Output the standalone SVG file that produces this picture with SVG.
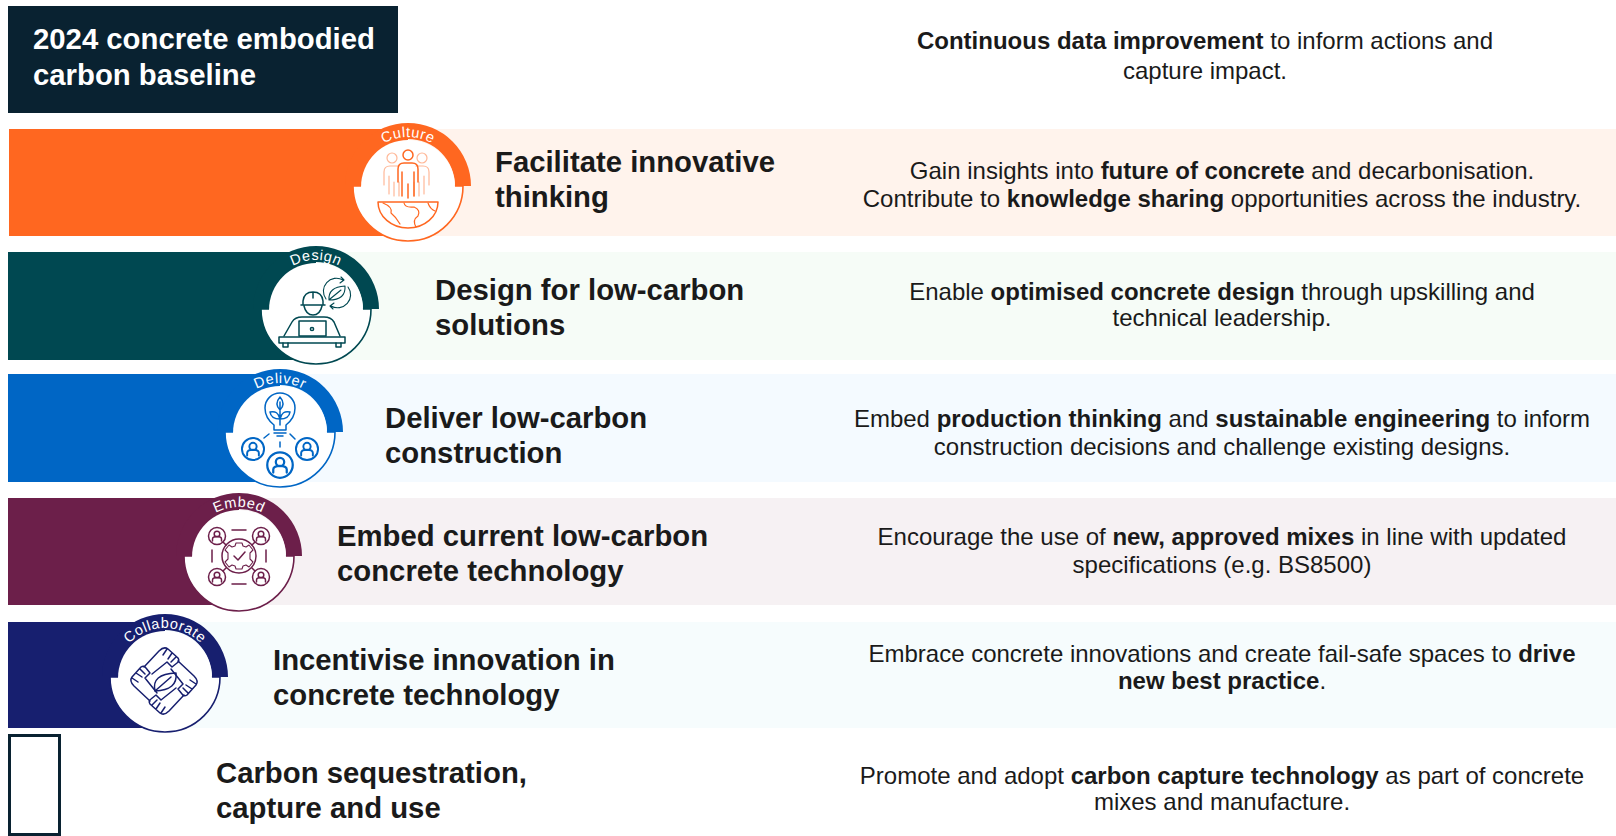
<svg xmlns="http://www.w3.org/2000/svg" width="1616" height="836" viewBox="0 0 1616 836">
<style>
text{font-family:"Liberation Sans",Arial,sans-serif;fill:#1a1a1a}
.t{font-size:29.300px;font-weight:700}
.d{font-size:24px;text-anchor:middle}
.b{font-weight:700}
.l{font-size:14.500px;fill:#fff;text-anchor:middle;letter-spacing:.6px}
.i{fill:none;stroke-width:1.5;stroke-linecap:round;stroke-linejoin:round}
.or{--c:#ff6720}.te{--c:#004851}.bl{--c:#0066c5}.pu{--c:#6c1f4a}.na{--c:#171f6f}
.band{fill:var(--c)}.disc{fill:#fff;stroke:var(--c);stroke-width:1.6}.top{fill:#fff}
.i{stroke:var(--c)}
.row{fill:var(--c)}
</style>
<defs>
<path id="arc" d="M-49 0A49 49 0 0 1 49 0"/>
<g id="badge">
<path class="disc" d="M-55 0A55 55 0 0 0 55 0Z"/>
<path class="band" d="M-63 0A63 63 0 0 1 63 0H47A47 47 0 0 0-47 0Z"/>
<path class="top" d="M-47 1A47 47 0 0 1 47 1Z"/>
</g>
<g id="arm">
<path d="M-20 -14L-5 -30Q0 -35 4 -32L14 -23Q16 -20 13 -18L8 -14L3 -19L-12 -7M3 -32L-1 -26M8 -28L4 -22M12 -24L7 -19"/>
</g>
<g id="p"><circle r="8.500"/><circle cy="-2" r="2.800"/><path d="M-4.500 5V3Q-4.500 .5 0 .5T4.500 3V5"/></g>
</defs>

<rect x="8" y="6" width="390" height="107" fill="#092231"/>
<text class="t" x="33" y="49" style="fill:#fff">2024 concrete embodied</text>
<text class="t" x="33" y="85" style="fill:#fff">carbon baseline</text>
<text class="d" x="1205" y="49"><tspan class="b">Continuous data improvement</tspan> to inform actions and</text>
<text class="d" x="1205" y="79">capture impact.</text>

<g id="row-culture" class="or">
<rect x="9" y="129" width="1607" height="107" fill="#fff3ec"/>
<rect class="row" x="9" y="129" width="399" height="107"/>
<g transform="translate(408 186)">
<use href="#badge"/>
<text class="l"><textPath href="#arc" startOffset="50%">Culture</textPath></text>
<g class="i">
<g style="stroke:#ffb898" stroke-width="1.2">
<circle cx="-16" cy="-28" r="5"/><circle cx="14" cy="-28" r="5"/>
<path d="M-9 -20H-18Q-24 -20-24 -14V-1M21 -1V-14Q21 -20 15 -20H8M-19 -10V8M-14 -4V10M-9 -4V10M16 -10V8M11 -4V10M6 -4V10"/>
</g>
<circle cx="0" cy="-31" r="5"/>
<path d="M-10 -4V-17Q-10 -23-4 -23H4Q10 -23 10 -17V-4M-6 -14V10M6 -14V10M0 -2V12"/>
<path d="M-30 16H30A30 26 0 0 1-30 16Z"/>
<path d="M-25 17Q-15 21-17 27Q-12 31-8 38M-4 17Q-3 22 6 21Q13 24 10 30Q4 34 8 41M20 17Q22 23 27 25" stroke-width="1.2"/>
</g>
</g>
</g>
<text class="t" x="495" y="172">Facilitate innovative</text>
<text class="t" x="495" y="207">thinking</text>
<text class="d" x="1222" y="179">Gain insights into <tspan class="b">future of concrete</tspan> and decarbonisation.</text>
<text class="d" x="1222" y="207">Contribute to <tspan class="b">knowledge sharing</tspan> opportunities across the industry.</text>

<g id="row-design" class="te">
<rect x="8" y="252" width="1608" height="108" fill="#f6fcf7"/>
<rect class="row" x="8" y="252" width="308" height="108"/>
<g transform="translate(316 309)">
<use href="#badge"/>
<text class="l"><textPath href="#arc" startOffset="50%">Design</textPath></text>
<g class="i">
<path d="M-13 -5V-8Q-12 -17-3 -17T7 -8V-5M-15 -4H9M-3 -17V-11M-12 -3Q-10 6-3 6T6 -3"/>
<path d="M-32 27L-24 13Q-21 8-14 8H8Q15 8 18 13L24 27"/>
<rect x="-17" y="12" width="27" height="15"/><circle cx="-4" cy="20" r="1.600"/>
<rect x="-37" y="28" width="66" height="6"/>
<path d="M-33 34V38H-28V34M20 34V38H25V34"/>
<path d="M10 -10A13 13 0 0 1 27 -29M25 -32L28 -29 24 -26M32 -22A13 13 0 0 1 15 -3M17 0L14 -3 18 -6" stroke-width="1.100"/>
<path d="M13 -9Q12 -22 29 -23Q30 -9 13 -9ZM14 -10L25 -19" stroke-width="1.100"/>
</g>
</g>
</g>
<text class="t" x="435" y="300">Design for low-carbon</text>
<text class="t" x="435" y="335">solutions</text>
<text class="d" x="1222" y="300">Enable <tspan class="b">optimised concrete design</tspan> through upskilling and</text>
<text class="d" x="1222" y="326">technical leadership.</text>

<g id="row-deliver" class="bl">
<rect x="8" y="374" width="1608" height="108" fill="#f4faff"/>
<rect class="row" x="8" y="374" width="272" height="108"/>
<g transform="translate(280 432)">
<use href="#badge"/>
<text class="l"><textPath href="#arc" startOffset="50%">Deliver</textPath></text>
<g class="i">
<path d="M-6 -7Q-15 -14-15 -24A15 15 0 0 1 15 -24Q15 -14 6 -7V-2H-6ZM-6 1H6M-3 4H3"/>
<path d="M0 -7V-30M0 -22Q-6 -28 0 -35Q6 -28 0 -22M0 -13Q-9 -13-10 -20Q-2 -22 0 -13M0 -13Q9 -13 10 -20Q2 -22 0 -13"/>
<path d="M-16 6L-11 2M15 7L10 2M0 10V15"/>
<g transform="translate(-27 17)"><use href="#p" transform="scale(1.3)"/></g>
<g transform="translate(27 17)"><use href="#p" transform="scale(1.3)"/></g>
<g transform="translate(0 33)"><use href="#p" transform="scale(1.5)"/></g>
</g>
</g>
</g>
<text class="t" x="385" y="428">Deliver low-carbon</text>
<text class="t" x="385" y="463">construction</text>
<text class="d" x="1222" y="427">Embed <tspan class="b">production thinking</tspan> and <tspan class="b">sustainable engineering</tspan> to inform</text>
<text class="d" x="1222" y="455">construction decisions and challenge existing designs.</text>

<g id="row-embed" class="pu">
<rect x="8" y="498" width="1608" height="107" fill="#f6f1f3"/>
<rect class="row" x="8" y="498" width="231" height="107"/>
<g transform="translate(239 556)">
<use href="#badge"/>
<text class="l"><textPath href="#arc" startOffset="50%">Embed</textPath></text>
<g class="i">
<circle r="17"/>
<path d="M-3 -13H3L4 -10 7 -9 10 -11 14 -6 11 -3V3L14 6 10 11 7 9 4 10 3 13H-3L-4 10-7 9-10 11-14 6-11 3V-3L-14 -6-10 -11-7 -9-4 -10Z" stroke-width="1.100"/>
<path d="M-5 0L-1 4 6 -4"/>
<g transform="translate(-22 -20)"><use href="#p"/></g><g transform="translate(22 -20)"><use href="#p"/></g>
<g transform="translate(-22 21)"><use href="#p"/></g><g transform="translate(22 21)"><use href="#p"/></g>
<path d="M-7 -26H7M-7 28H7M-27 -6V6M27 -6V6M-16 -14L-13 -11M16 -14L13 -11M-16 15L-13 12M16 15L13 12"/>
</g>
</g>
</g>
<text class="t" x="337" y="546">Embed current low-carbon</text>
<text class="t" x="337" y="581">concrete technology</text>
<text class="d" x="1222" y="545">Encourage the use of <tspan class="b">new, approved mixes</tspan> in line with updated</text>
<text class="d" x="1222" y="573">specifications (e.g. BS8500)</text>

<g id="row-collaborate" class="na">
<rect x="8" y="622" width="1608" height="106" fill="#f6fcfd"/>
<rect class="row" x="8" y="622" width="157" height="106"/>
<g transform="translate(165 677)">
<use href="#badge"/>
<text class="l"><textPath href="#arc" startOffset="50%">Collaborate</textPath></text>
<g class="i" transform="translate(-1 4)">
<use href="#arm"/><use href="#arm" transform="rotate(90)"/><use href="#arm" transform="rotate(180)"/><use href="#arm" transform="rotate(270)"/>
<path d="M-9 10Q-13 -7 12 -8Q14 9-9 10ZM-9 10L7 -4"/>
</g>
</g>
</g>
<text class="t" x="273" y="670">Incentivise innovation in</text>
<text class="t" x="273" y="705">concrete technology</text>
<text class="d" x="1222" y="662">Embrace concrete innovations and create fail-safe spaces to <tspan class="b">drive</tspan></text>
<text class="d" x="1222" y="689"><tspan class="b">new best practice</tspan>.</text>

<g id="row-carbon">
<rect x="9.500" y="735.500" width="50" height="99" fill="#fff" stroke="#092231" stroke-width="3"/>
</g>
<text class="t" x="216" y="783">Carbon sequestration,</text>
<text class="t" x="216" y="818">capture and use</text>
<text class="d" x="1222" y="784">Promote and adopt <tspan class="b">carbon capture technology</tspan> as part of concrete</text>
<text class="d" x="1222" y="810">mixes and manufacture.</text>
</svg>
